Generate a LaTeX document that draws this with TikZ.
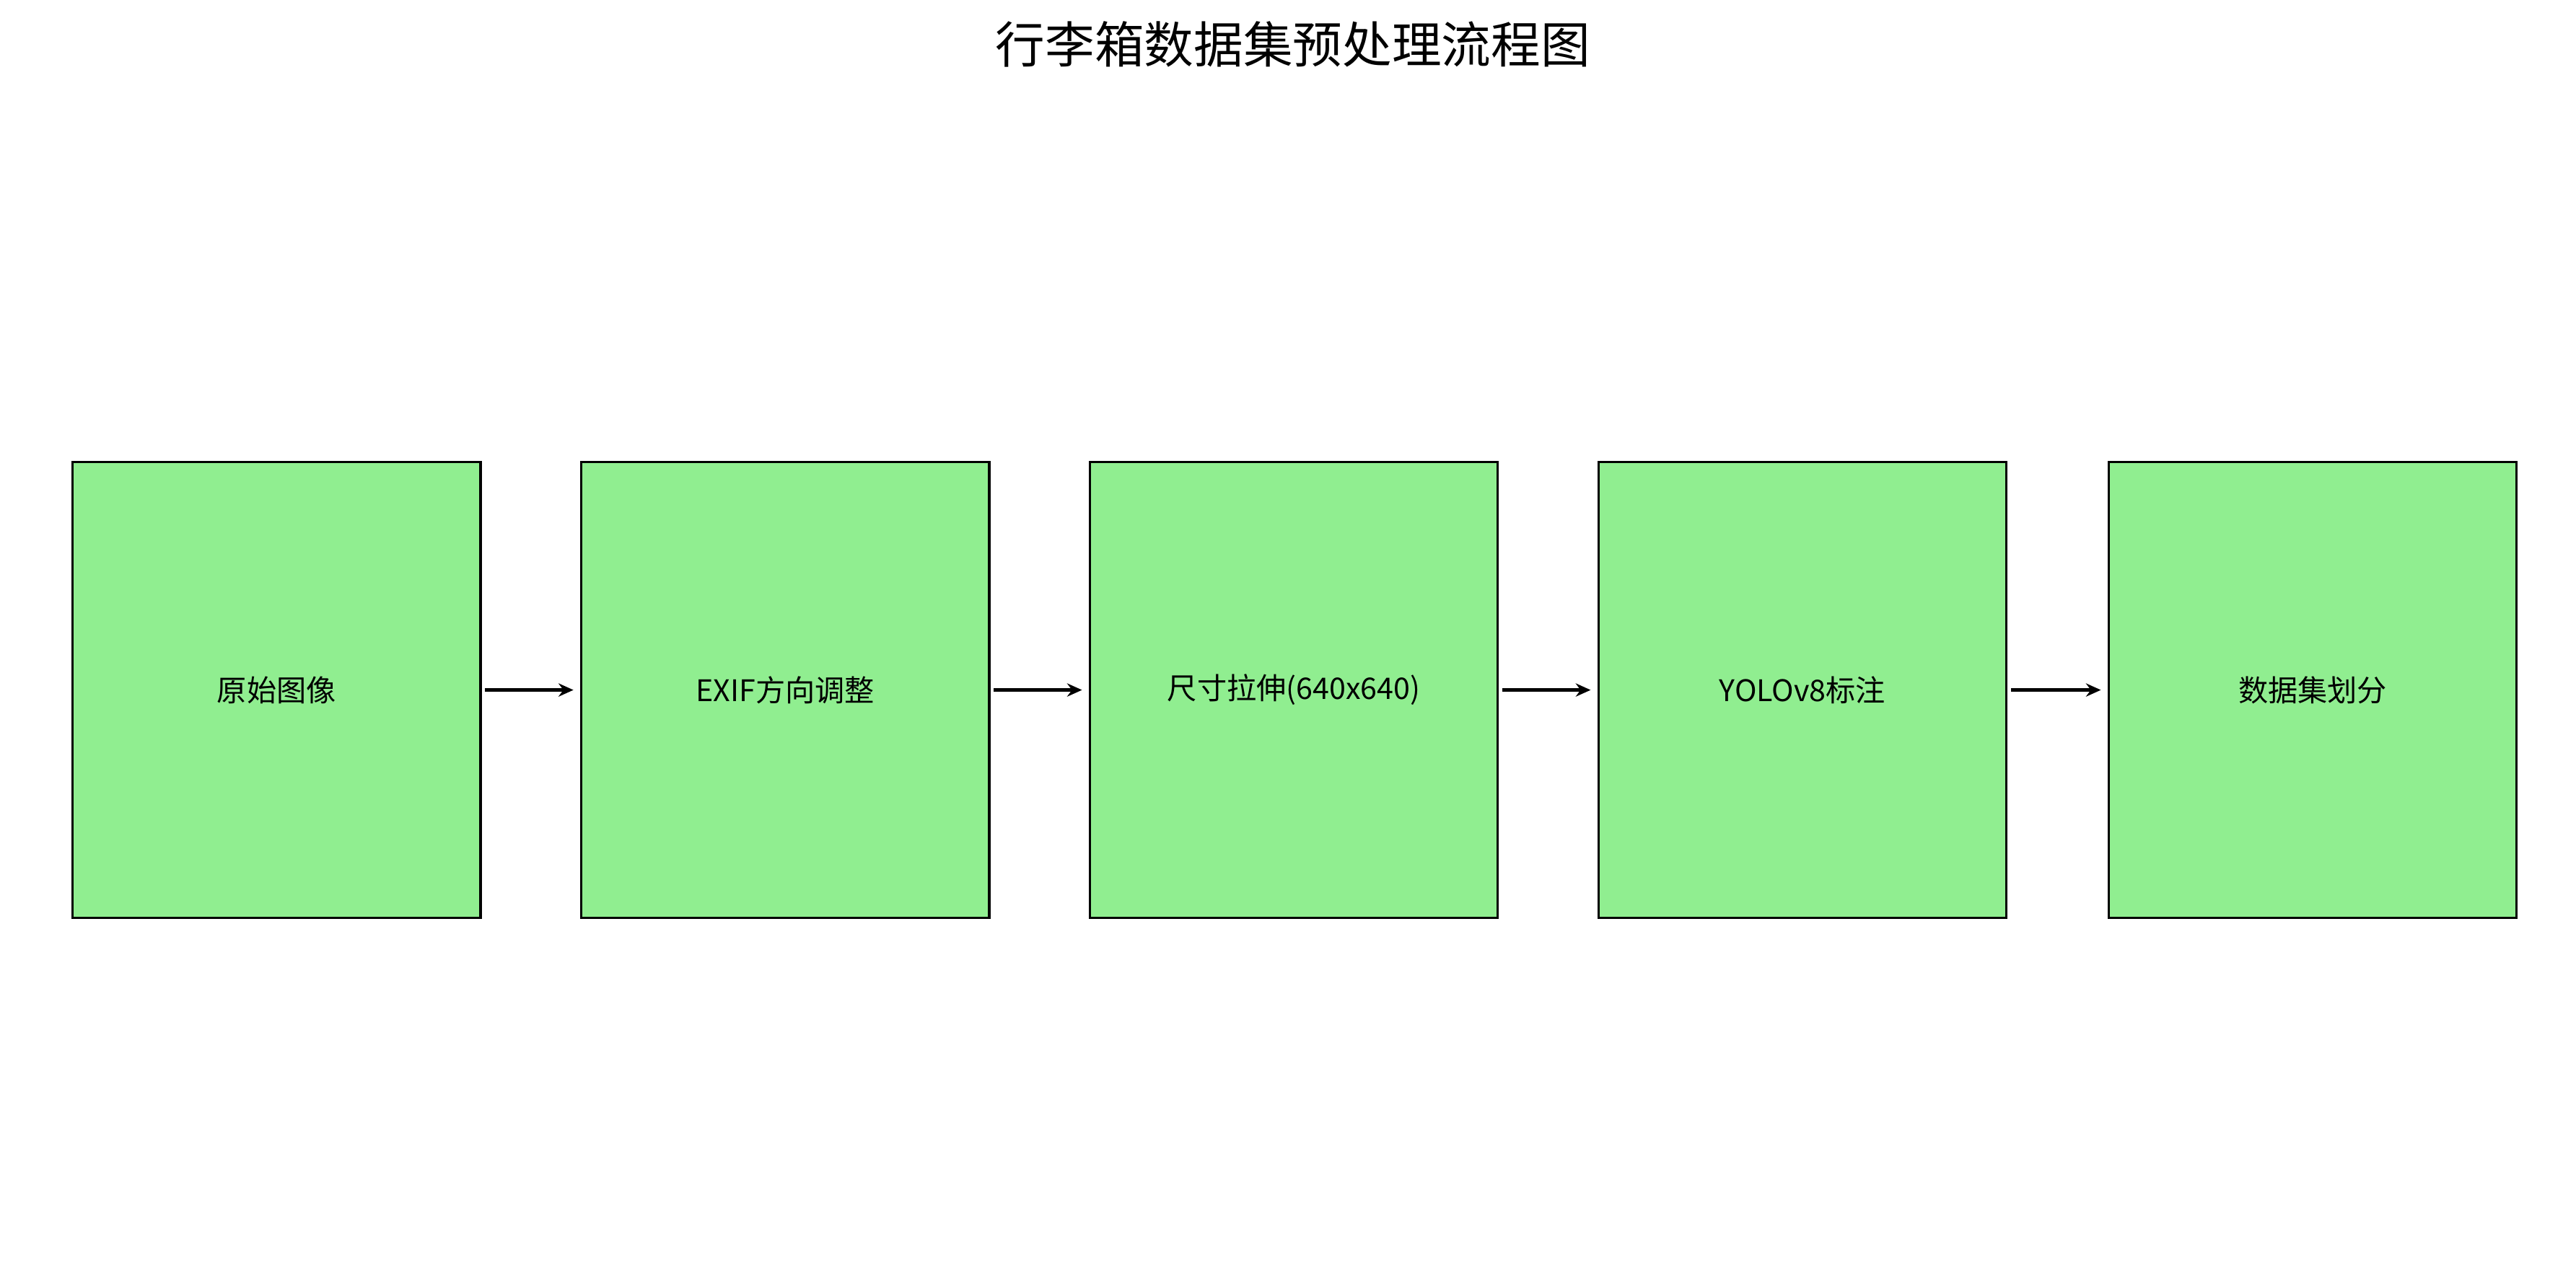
\documentclass[tikz,border=0pt]{standalone}
\usepackage{fontspec}
\setmainfont{Noto Sans CJK SC}
\usetikzlibrary{arrows.meta}
\definecolor{lg}{HTML}{90EE90}
\begin{document}
\begin{tikzpicture}[x=1pt,y=-1pt,
  stepbox/.style={draw=black,line width=1.5pt,fill=lg,minimum width=247pt,minimum height=276pt,inner sep=0pt,font=\fontsize{18}{20}\selectfont},
  conn/.style={-{Stealth[length=9pt,width=8pt]},line width=2.2pt}]
\useasboundingbox (0,0) rectangle (1560,773);
\node[font=\fontsize{30}{34}\selectfont] (title) at (783,27) {行李箱数据集预处理流程图};
\node[stepbox] (b1) at (167.5,418) {原始图像};
\node[stepbox] (b2) at (475.5,418) {EXIF方向调整};
\node[stepbox] (b3) at (783.5,418) {尺寸拉伸(640x640)};
\node[stepbox] (b4) at (1091.5,418) {YOLOv8标注};
\node[stepbox] (b5) at (1400.5,418) {数据集划分};
\draw[conn] ([xshift=2pt]b1.east) -- ([xshift=-4pt]b2.west);
\draw[conn] ([xshift=2pt]b2.east) -- ([xshift=-4pt]b3.west);
\draw[conn] ([xshift=2pt]b3.east) -- ([xshift=-4pt]b4.west);
\draw[conn] ([xshift=2pt]b4.east) -- ([xshift=-4pt]b5.west);
\end{tikzpicture}
\end{document}
